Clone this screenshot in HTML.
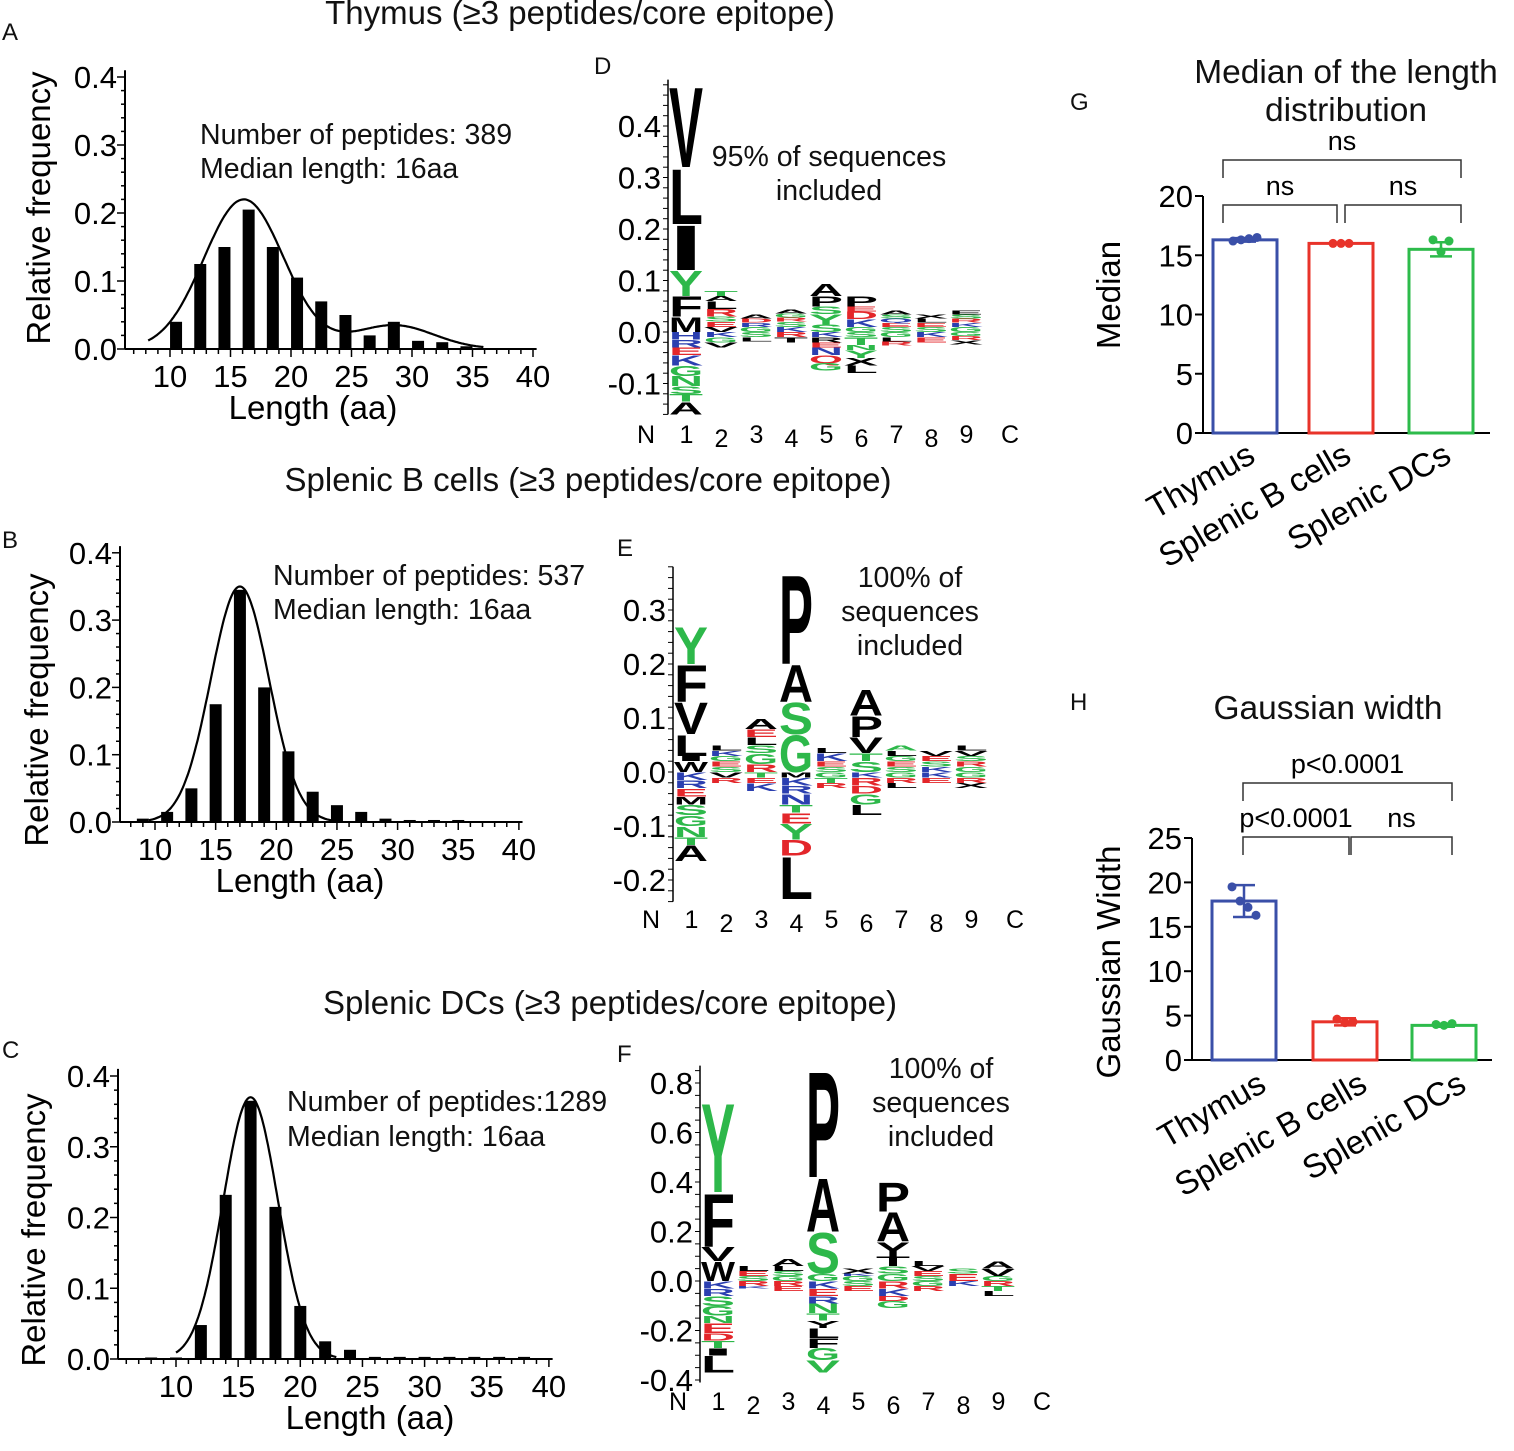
<!DOCTYPE html>
<html><head><meta charset="utf-8">
<style>
html,body{margin:0;padding:0;background:#fff;}
svg{display:block;font-family:"Liberation Sans",sans-serif;}
</style></head>
<body>
<svg id="fig" width="1514" height="1451" viewBox="0 0 1514 1451" xmlns="http://www.w3.org/2000/svg">
<g font-size="33" fill="#111">
<text x="580" y="24" text-anchor="middle">Thymus (≥3 peptides/core epitope)</text>
<text x="588" y="491" text-anchor="middle">Splenic B cells (≥3 peptides/core epitope)</text>
<text x="610" y="1014" text-anchor="middle">Splenic DCs (≥3 peptides/core epitope)</text>
<g font-size="24">
<text x="2" y="40">A</text>
<text x="2" y="548">B</text>
<text x="2" y="1058">C</text>
<text x="594" y="74">D</text>
<text x="617" y="556">E</text>
<text x="617" y="1062">F</text>
<text x="1070" y="110">G</text>
<text x="1070" y="710">H</text>
</g>
<g font-size="28.5">
<text x="200" y="144">Number of peptides: 389</text>
<text x="200" y="178">Median length: 16aa</text>
<text x="273" y="585">Number of peptides: 537</text>
<text x="273" y="619">Median length: 16aa</text>
<text x="287" y="1111">Number of peptides:1289</text>
<text x="287" y="1146">Median length: 16aa</text>
<text x="829" y="166" text-anchor="middle">95% of sequences</text>
<text x="829" y="200" text-anchor="middle">included</text>
<text x="910" y="587" text-anchor="middle">100% of</text>
<text x="910" y="621" text-anchor="middle">sequences</text>
<text x="910" y="655" text-anchor="middle">included</text>
<text x="941" y="1078" text-anchor="middle">100% of</text>
<text x="941" y="1112" text-anchor="middle">sequences</text>
<text x="941" y="1146" text-anchor="middle">included</text>
</g>
<g font-size="33.5">
<text x="1346" y="83" text-anchor="middle">Median of the length</text>
<text x="1346" y="121" text-anchor="middle">distribution</text>
<text x="1328" y="719" text-anchor="middle">Gaussian width</text>
</g>
</g>
</svg>
<script>
const NS='http://www.w3.org/2000/svg';
const svg=document.getElementById('fig');
function mk(tag,attrs,parent){const e=document.createElementNS(NS,tag);for(const k in attrs)e.setAttribute(k,attrs[k]);(parent||svg).appendChild(e);return e;}
const COL={k:'#000',g:'#2db84a',b:'#2b3fb0',r:'#e3262a'};

/* ---------- histogram data ---------- */
const histA_bins=[10.5,12.5,14.5,16.5,18.5,20.5,22.5,24.5,26.5,28.5,30.5,32.5,34.5];
const histA_vals=[0.04,0.125,0.15,0.205,0.15,0.105,0.07,0.05,0.02,0.04,0.012,0.01,0.004];
const histA_fit=[[0.22,16.1,3.3],[0.035,28.5,3.3]];
const histB_bins=[9,11,13,15,17,19,21,23,25,27,29,31,33,35];
const histB_vals=[0.005,0.015,0.05,0.175,0.345,0.2,0.105,0.045,0.025,0.015,0.005,0.003,0.003,0.003];
const histB_fit=[[0.35,17,2.4]];
const histC_bins=[8,10,12,14,16,18,20,22,24,26,28,30,32,34,36,38];
const histC_vals=[0.002,0.002,0.048,0.232,0.365,0.215,0.075,0.025,0.013,0.003,0.003,0.003,0.003,0.003,0.003,0.003];
const histC_fit=[[0.37,16,2.2]];
const histXTicks=[10,15,20,25,30,35,40];
const histYTicks=[0,0.1,0.2,0.3,0.4];

function hist(id,cfg,bins,vals,fit){
  const g=mk('g',{});
  
  
  const X=v=>cfg.x10+(v-10)*cfg.sx, Y=v=>cfg.y0-v*cfg.sy;
  const xmin=10-(cfg.x10-cfg.ax)/cfg.sx;
  const ya=mk('line',{x1:cfg.ax,x2:cfg.ax,y1:cfg.y0,y2:Y(0.41),stroke:'#000','stroke-width':2},g);
  
  
  const xa=mk('line',{x1:cfg.ax,x2:X(40.3),y1:cfg.y0,y2:cfg.y0,stroke:'#000','stroke-width':2},g);
  
  
  for(let v=Math.ceil(xmin);v<=40;v++){
    const t=mk('line',{x1:X(v),x2:X(v),y1:cfg.y0,y2:cfg.y0+(v%5===0?8:5),stroke:'#000','stroke-width':1.5},g);
    
    
  }
  histXTicks.forEach(v=>{
    const t=mk('text',{x:X(v),y:cfg.y0+38,'text-anchor':'middle','font-size':31},g);t.textContent=v;
    
    
  });
  for(let v=0;v<=0.4001;v+=0.02){
    const major=Math.abs(v*10-Math.round(v*10))<1e-6;
    const t=mk('line',{x1:cfg.ax-(major?8:4),x2:cfg.ax,y1:Y(v),y2:Y(v),stroke:'#000','stroke-width':1.5},g);
    
    
  }
  histYTicks.forEach(v=>{
    const t=mk('text',{x:cfg.ax-8,y:Y(v)+11,'text-anchor':'end','font-size':31},g);t.textContent=v.toFixed(1);
    
    
  });
  bins.forEach((b,i)=>{
    const h=Math.max(vals[i]*cfg.sy,1.5);
    const r=mk('rect',{x:X(b)-6,y:cfg.y0-h,width:12,height:h,fill:'#000'},g);
    
    
  });
  let d='';
  for(let v=cfg.c0;v<=cfg.c1;v+=0.1){
    let f=0;fit.forEach(p=>{f+=p[0]*Math.exp(-((v-p[1])**2)/(2*p[2]*p[2]));});
    d+=(d?'L':'M')+X(v).toFixed(1)+','+Y(f).toFixed(1);
  }
  const c=mk('path',{d:d,fill:'none',stroke:'#000','stroke-width':2.2},g);
  
  
  const yt=mk('text',{transform:`translate(${cfg.tx},${cfg.ty}) rotate(-90)`,'text-anchor':'middle','font-size':33},g);
  yt.textContent='Relative frequency';
  
  
  const xt=mk('text',{x:cfg.xtx,y:cfg.y0+70,'text-anchor':'middle','font-size':33},g);
  xt.textContent='Length (aa)';
  
  
}
hist('a',{ax:125,x10:170,sx:12.1,y0:349,sy:680,c0:8.2,c1:36,tx:50,ty:208,xtx:313},histA_bins,histA_vals,histA_fit);
hist('b',{ax:120,x10:155,sx:12.13,y0:822,sy:673,c0:9.5,c1:25,tx:48,ty:710,xtx:300},histB_bins,histB_vals,histB_fit);
hist('c',{ax:118,x10:176,sx:12.43,y0:1359,sy:707.5,c0:10,c1:23,tx:45,ty:1230,xtx:370},histC_bins,histC_vals,histC_fit);

/* ---------- sequence logos ---------- */
const logoPositions=['1','2','3','4','5','6','7','8','9'];
const logoD_pos=[
 [['M',.03,'k'],['F',.04,'k'],['Y',.05,'g'],['I',.09,'k'],['L',.11,'k'],['V',.16,'k']],
 [['V',.01,'k'],['E',.01,'r'],['S',.01,'g'],['R',.015,'r'],['L',.015,'k'],['A',.01,'k'],['T',.01,'g']],
 [['G',.01,'g'],['R',.008,'b'],['D',.008,'r'],['A',.008,'k']],
 [['K',.01,'b'],['S',.01,'g'],['R',.008,'r'],['G',.008,'g'],['A',.008,'k']],
 [['S',.015,'g'],['Y',.02,'g'],['S',.015,'g'],['P',.02,'k'],['A',.025,'k']],
 [['G',.01,'g'],['K',.015,'b'],['D',.015,'r'],['E',.01,'r'],['P',.02,'k']],
 [['S',.01,'g'],['E',.008,'r'],['Q',.008,'b'],['S',.008,'g'],['A',.008,'k']],
 [['S',.01,'g'],['E',.008,'r'],['L',.008,'k'],['X',.008,'k']],
 [['G',.01,'g'],['K',.008,'b'],['R',.008,'r'],['S',.008,'g'],['E',.008,'k']]];
const logoD_neg=[
 [['H',.015,'b'],['R',.015,'b'],['E',.015,'r'],['K',.02,'b'],['G',.02,'g'],['N',.02,'g'],['S',.015,'g'],['T',.015,'g'],['A',.025,'k']],
 [['K',.01,'b'],['G',.01,'g'],['V',.01,'k']],
 [['S',.01,'g'],['L',.008,'k']],
 [['R',.01,'r'],['T',.01,'k']],
 [['K',.01,'b'],['R',.01,'k'],['E',.01,'r'],['N',.015,'b'],['Q',.015,'r'],['G',.015,'g']],
 [['S',.01,'g'],['T',.015,'g'],['N',.01,'g'],['Y',.015,'g'],['X',.015,'k'],['L',.015,'k']],
 [['G',.01,'g'],['L',.008,'k'],['R',.008,'r']],
 [['K',.01,'b'],['E',.01,'r']],
 [['G',.008,'g'],['R',.008,'r'],['X',.008,'k']]];
const logoE_pos=[
 [['W',.02,'k'],['I',.01,'k'],['L',.04,'k'],['V',.06,'k'],['F',.07,'k'],['Y',.07,'g']],
 [['S',.01,'g'],['E',.01,'r'],['G',.01,'g'],['K',.01,'b'],['L',.01,'k']],
 [['R',.015,'r'],['G',.02,'g'],['S',.015,'g'],['L',.015,'k'],['E',.015,'r'],['A',.02,'k']],
 [['G',.07,'g'],['S',.06,'g'],['A',.07,'k'],['P',.17,'k']],
 [['S',.01,'g'],['E',.01,'r'],['K',.015,'b'],['L',.01,'k']],
 [['S',.02,'g'],['T',.015,'g'],['V',.03,'k'],['P',.04,'k'],['A',.05,'k']],
 [['S',.01,'g'],['E',.01,'r'],['G',.01,'g'],['L',.01,'k'],['A',.01,'g']],
 [['K',.01,'b'],['S',.01,'g'],['E',.01,'r'],['V',.01,'k']],
 [['G',.01,'g'],['R',.01,'r'],['S',.01,'g'],['V',.01,'k'],['L',.01,'k']]];
const logoE_neg=[
 [['K',.015,'b'],['R',.015,'b'],['E',.015,'r'],['M',.015,'k'],['S',.02,'g'],['G',.02,'g'],['N',.02,'g'],['T',.015,'g'],['A',.03,'k']],
 [['V',.01,'k'],['R',.01,'r']],
 [['T',.01,'g'],['E',.01,'r'],['K',.015,'b']],
 [['M',.01,'k'],['K',.015,'b'],['R',.015,'b'],['N',.02,'b'],['T',.015,'g'],['E',.02,'r'],['Y',.03,'g'],['D',.03,'r'],['L',.08,'k']],
 [['G',.01,'g'],['T',.01,'g'],['R',.01,'r']],
 [['K',.01,'b'],['R',.015,'r'],['D',.015,'r'],['G',.02,'g'],['L',.02,'k']],
 [['G',.01,'g'],['R',.01,'r'],['L',.01,'k']],
 [['K',.01,'b'],['E',.01,'r']],
 [['G',.01,'g'],['R',.01,'r'],['X',.01,'k']]];
const logoF_pos=[
 [['W',.08,'k'],['V',.06,'k'],['F',.22,'k'],['Y',.37,'g']],
 [['S',.02,'g'],['E',.02,'r'],['L',.02,'k']],
 [['G',.02,'g'],['S',.02,'g'],['L',.02,'k'],['A',.03,'k']],
 [['G',.03,'g'],['S',.17,'g'],['A',.22,'k'],['P',.44,'k']],
 [['G',.02,'g'],['K',.01,'b'],['X',.02,'k']],
 [['G',.03,'g'],['S',.03,'g'],['T',.04,'k'],['Y',.06,'k'],['A',.12,'k'],['P',.12,'k']],
 [['S',.02,'g'],['E',.02,'r'],['V',.02,'k'],['L',.02,'k']],
 [['E',.03,'r'],['S',.02,'g']],
 [['G',.02,'g'],['V',.03,'k'],['A',.03,'k']]];
const logoF_neg=[
 [['K',.03,'b'],['R',.03,'b'],['S',.04,'g'],['G',.04,'g'],['N',.03,'g'],['E',.04,'r'],['D',.03,'r'],['T',.03,'g'],['I',.03,'k'],['L',.07,'k']],
 [['R',.02,'r'],['K',.01,'b']],
 [['R',.02,'r'],['E',.02,'r']],
 [['K',.03,'b'],['E',.03,'r'],['R',.03,'b'],['N',.04,'g'],['T',.03,'g'],['Y',.03,'k'],['L',.04,'k'],['F',.04,'k'],['G',.05,'g'],['V',.05,'g']],
 [['S',.02,'g'],['E',.02,'r']],
 [['R',.03,'r'],['K',.03,'b'],['D',.02,'r'],['G',.03,'g']],
 [['G',.02,'g'],['R',.02,'r']],
 [['K',.02,'b']],
 [['R',.02,'r'],['T',.02,'g'],['L',.02,'k']]];
const logoD_ticks=[-0.1,0,0.1,0.2,0.3,0.4];
const logoE_ticks=[-0.2,-0.1,0,0.1,0.2,0.3];
const logoF_ticks=[-0.4,-0.2,0,0.2,0.4,0.6,0.8];

function letter(g,ch,x,yb,w,h,color){
  if(h<0.5)return;
  const t=mk('text',{transform:`translate(${x.toFixed(1)},${yb.toFixed(1)}) scale(${(w/100).toFixed(4)},${(h/72).toFixed(4)})`,x:0,y:0,'font-size':100,'font-weight':'bold',textLength:100,lengthAdjust:'spacingAndGlyphs',fill:COL[color]},g);
  t.textContent=ch;
  
  
}
function logo(id,cfg,pos,neg,ticks){
  const g=mk('g',{});
  
  
  const Y=v=>cfg.y0-v*cfg.s;
  const a=mk('line',{x1:cfg.ax,x2:cfg.ax,y1:Y(cfg.ymin),y2:Y(cfg.ymax),stroke:'#000','stroke-width':1.5},g);
  
  
  const st=cfg.minor;
  for(let v=Math.ceil(cfg.ymin/st)*st;v<=cfg.ymax+1e-9;v+=st){
    const t=mk('line',{x1:cfg.ax-5,x2:cfg.ax,y1:Y(v),y2:Y(v),stroke:'#000','stroke-width':1},g);
    
    
  }
  ticks.forEach(v=>{
    const t=mk('text',{x:cfg.ax-7,y:Y(v)+11,'text-anchor':'end','font-size':31},g);t.textContent=v.toFixed(1);
    
    
  });
  const w=cfg.cw;
  logoPositions.forEach((p,i)=>{
    const x=cfg.ax+1+i*w;
    let acc=0;
    pos[i].forEach(L=>{letter(g,L[0],x,Y(acc),w-1,L[1]*cfg.s,L[2]);acc+=L[1];});
    acc=0;
    neg[i].forEach(L=>{acc+=L[1];letter(g,L[0],x,Y(-acc),w-1,L[1]*cfg.s,L[2]);});
    const t=mk('text',{x:x+w/2,y:cfg.ly+(i%2?4:0),'text-anchor':'middle','font-size':25},g);t.textContent=p;
    
    
  });
  const n=mk('text',{x:cfg.ax-22,y:cfg.ly,'text-anchor':'middle','font-size':25},g);n.textContent='N';
  
  
  const c=mk('text',{x:cfg.ax+9*w+27,y:cfg.ly,'text-anchor':'middle','font-size':25},g);c.textContent='C';
  
  
}
logo('d',{ax:668,y0:332,s:515,ymin:-0.16,ymax:0.49,minor:0.02,cw:35,ly:443},logoD_pos,logoD_neg,logoD_ticks);
logo('e',{ax:673,y0:772,s:540,ymin:-0.24,ymax:0.38,minor:0.02,cw:35,ly:928},logoE_pos,logoE_neg,logoE_ticks);
logo('f',{ax:700,y0:1281,s:247.5,ymin:-0.41,ymax:0.87,minor:0.05,cw:35,ly:1410},logoF_pos,logoF_neg,logoF_ticks);

/* ---------- bar charts ---------- */
const groups=['Thymus','Splenic B cells','Splenic DCs'];
const groupColors=['#3a4fa8','#e8332a','#2dbb4b'];
const medianVals=[16.3,16.0,15.5];
const medianPts=[[16.2,16.3,16.4,16.5],[16.0,16.0,16.0],[16.3,15.3,16.2]];
const medianSD=[0.15,0.05,0.6];
const medianTicks=[0,5,10,15,20];
const widthVals=[17.9,4.3,3.9];
const widthPts=[[19.5,17.9,17.2,16.3],[4.6,4.2,4.3],[4.0,3.9,4.1]];
const widthSD=[1.8,0.4,0.15];
const widthTicks=[0,5,10,15,20,25];

function barChart(id,cfg,vals,pts,sd,ticks,brackets){
  const g=mk('g',{});
  
  
  const Y=v=>cfg.y0-v*cfg.s;
  const ya=mk('line',{x1:cfg.ax,x2:cfg.ax,y1:cfg.y0,y2:Y(ticks[ticks.length-1]),stroke:'#000','stroke-width':2},g);
  
  
  const xa=mk('line',{x1:cfg.ax,x2:cfg.xend,y1:cfg.y0,y2:cfg.y0,stroke:'#000','stroke-width':2},g);
  
  
  ticks.forEach(v=>{
    const t=mk('line',{x1:cfg.ax-8,x2:cfg.ax,y1:Y(v),y2:Y(v),stroke:'#000','stroke-width':2},g);
    
    
    const l=mk('text',{x:cfg.ax-10,y:Y(v)+11,'text-anchor':'end','font-size':31},g);l.textContent=v;
    
    
  });
  groups.forEach((name,i)=>{
    const cx=cfg.c[i], col=groupColors[i];
    const r=mk('rect',{x:cx-32,y:Y(vals[i]),width:64,height:vals[i]*cfg.s,fill:'none',stroke:col,'stroke-width':3},g);
    
    
    const e=mk('path',{d:`M${cx},${Y(vals[i]+sd[i])}V${Y(vals[i]-sd[i])}M${cx-11},${Y(vals[i]+sd[i])}H${cx+11}M${cx-11},${Y(vals[i]-sd[i])}H${cx+11}`,stroke:col,'stroke-width':2.5,fill:'none'},g);
    
    
    pts[i].forEach((p,j)=>{
      const off=(j-(pts[i].length-1)/2)*8;
      const d=mk('circle',{cx:cx+off,cy:Y(p),r:4.5,fill:col},g);
      
      
    });
    const l=mk('text',{transform:`translate(${cx+cfg.lx},${cfg.y0+cfg.ly}) rotate(-30)`,'text-anchor':'end','font-size':33},g);
    l.textContent=name;
    
    
  });
  brackets.forEach(b=>{
    const x1=b[4], x2=b[5];
    const p=mk('path',{d:`M${x1},${b[2]+18}V${b[2]}H${x2}V${b[2]+18}`,fill:'none',stroke:'#333','stroke-width':1.5},g);
    
    
    const t=mk('text',{x:(x1+x2)/2,y:b[2]-10,'text-anchor':'middle','font-size':27},g);
    t.textContent=b[3];
    
    
  });
  const yt=mk('text',{transform:`translate(${cfg.tx},${cfg.ty}) rotate(-90)`,'text-anchor':'middle','font-size':33},g);
  yt.textContent=cfg.title;
  
  
}
barChart('median',{ax:1203,xend:1490,y0:433,s:11.85,c:[1245,1341,1441],lx:12,ly:28,tx:1120,ty:295,title:'Median'},
  medianVals,medianPts,medianSD,medianTicks,
  [[0,2,160,'ns',1223,1461],[0,1,205,'ns',1223,1337],[1,2,205,'ns',1345,1461]]);
barChart('gaussian-width',{ax:1192,xend:1492,y0:1060,s:8.88,c:[1244,1345,1444],lx:24,ly:30,tx:1120,ty:962,title:'Gaussian Width'},
  widthVals,widthPts,widthSD,widthTicks,
  [[0,2,783,'p<0.0001',1243,1452],[0,1,837,'p<0.0001',1243,1349],[1,2,837,'ns',1351,1452]]);
</script>
</body></html>
